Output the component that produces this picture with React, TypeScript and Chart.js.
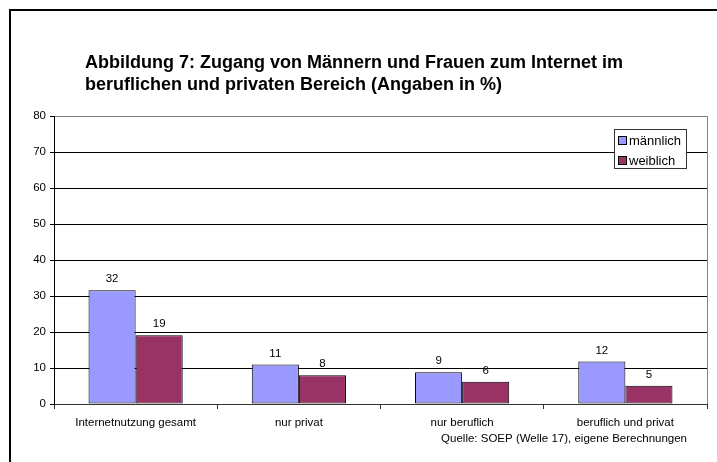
import React, { useEffect, useRef } from "react";
import { Chart, registerables } from "chart.js";

Chart.register(...registerables);

const categories = ["Internetnutzung gesamt", "nur privat", "nur beruflich", "beruflich und privat"];
const seriesNames = ["männlich", "weiblich"];
const maleValues = [31.6, 11.0, 8.8, 11.8];
const femaleValues = [19.1, 8.0, 6.2, 5.1];
const seriesColors = ["#9999FF", "#993366"];
const yMin = 0;
const yMax = 80;
const yStep = 10;
const titleLines = [
  "Abbildung 7: Zugang von Männern und Frauen zum Internet im",
  "beruflichen und privaten Bereich (Angaben in %)",
];
const sourceText = "Quelle: SOEP (Welle 17), eigene Berechnungen";

const FONT = "Arial, 'Liberation Sans', sans-serif";

const decorPlugin = {
  id: "decor",
  beforeDraw(chart: any) {
    const ctx = chart.ctx;
    ctx.save();
    ctx.fillStyle = "#ffffff";
    ctx.fillRect(0, 0, chart.width, chart.height);
    // outer frame
    ctx.strokeStyle = "#000";
    ctx.lineWidth = 2;
    ctx.beginPath();
    ctx.moveTo(10, chart.height + 20);
    ctx.lineTo(10, 10);
    ctx.lineTo(chart.width + 20, 10);
    ctx.stroke();
    // title
    ctx.fillStyle = "#000";
    ctx.font = `bold 18px ${FONT}`;
    ctx.textAlign = "left";
    ctx.textBaseline = "middle";
    titleLines.forEach((line, i) => ctx.fillText(line, 85, 63 + i * 22));
    ctx.restore();
  },
  afterDatasetsDraw(chart: any) {
    const ctx = chart.ctx;
    const area = chart.chartArea;
    ctx.save();
    // plot area right border
    ctx.strokeStyle = "#808080";
    ctx.lineWidth = 1;
    ctx.beginPath();
    ctx.moveTo(Math.round(area.right) + 0.5, area.top);
    ctx.lineTo(Math.round(area.right) + 0.5, area.bottom);
    ctx.stroke();
    // data labels
    ctx.fillStyle = "#000";
    ctx.font = `11.5px ${FONT}`;
    ctx.textAlign = "center";
    ctx.textBaseline = "middle";
    chart.data.datasets.forEach((ds: any, di: number) => {
      const meta = chart.getDatasetMeta(di);
      meta.data.forEach((bar: any, i: number) => {
        ctx.fillText(String(Math.round(ds.data[i])), bar.x, bar.y - 11);
      });
    });
    ctx.restore();
  },
  afterDraw(chart: any) {
    const ctx = chart.ctx;
    const area = chart.chartArea;
    ctx.save();
    // source text
    ctx.fillStyle = "#000";
    ctx.font = `11.5px ${FONT}`;
    ctx.textAlign = "right";
    ctx.textBaseline = "middle";
    ctx.fillText(sourceText, area.right - 20, 439);
    // legend
    ctx.font = `13px ${FONT}`;
    const textW = Math.max(...chart.data.datasets.map((d: any) => ctx.measureText(d.label).width));
    const boxW = Math.round(4 + 9 + 2 + textW + 5);
    const boxH = 39;
    const right = Math.round(area.right) - 21;
    const top = Math.round(area.top) + 13;
    const left = right - boxW;
    ctx.fillStyle = "#fff";
    ctx.fillRect(left, top, boxW, boxH);
    ctx.strokeStyle = "#333";
    ctx.lineWidth = 1;
    ctx.strokeRect(left + 0.5, top + 0.5, boxW, boxH);
    chart.data.datasets.forEach((ds: any, i: number) => {
      const cy = top + 11 + i * 20;
      ctx.fillStyle = ds.backgroundColor;
      ctx.fillRect(left + 4, cy - 4, 9, 9);
      ctx.strokeStyle = "#000";
      ctx.strokeRect(left + 4.5, cy - 3.5, 8, 8);
      ctx.fillStyle = "#000";
      ctx.textAlign = "left";
      ctx.textBaseline = "middle";
      ctx.fillText(ds.label, left + 15, cy + 1);
    });
    ctx.restore();
  },
};

export default function App() {
  const ref = useRef<HTMLCanvasElement | null>(null);

  useEffect(() => {
    if (!ref.current) return;
    const chart = new Chart(ref.current, {
      type: "bar",
      data: {
        labels: categories,
        datasets: [
          {
            label: seriesNames[0],
            data: maleValues,
            backgroundColor: seriesColors[0],
            borderColor: "#000",
            borderWidth: 1,
            borderSkipped: false,
          },
          {
            label: seriesNames[1],
            data: femaleValues,
            backgroundColor: seriesColors[1],
            borderColor: "#000",
            borderWidth: 1,
            borderSkipped: false,
          },
        ],
      },
      options: {
        responsive: false,
        animation: false,
        devicePixelRatio: 1,
        layout: { padding: { top: 116, right: 10, bottom: 0, left: 0 } },
        plugins: {
          legend: { display: false },
          title: { display: false },
          tooltip: { enabled: false },
        },
        datasets: {
          bar: { categoryPercentage: 0.577, barPercentage: 1 },
        },
        scales: {
          x: {
            offset: true,
            grid: {
              offset: true,
              drawOnChartArea: false,
              drawTicks: true,
              tickLength: 5,
              color: "#333",
            },
            border: { color: "#333", width: 1 },
            ticks: {
              color: "#000",
              font: { family: FONT, size: 11.5 },
              padding: 7,
              maxRotation: 0,
              autoSkip: false,
            },
            afterFit(scale: any) {
              scale.height = 58;
            },
          },
          y: {
            min: yMin,
            max: yMax,
            grid: {
              color: (c: any) => (c.tick && c.tick.value === yMax ? "#808080" : "#000"),
              tickColor: "#000",
              tickLength: 4,
            },
            border: { color: "#000", width: 1 },
            ticks: {
              stepSize: yStep,
              color: "#000",
              font: { family: FONT, size: 11.5 },
              padding: 4,
            },
            afterFit(scale: any) {
              scale.width = 54;
            },
          },
        },
      },
      plugins: [decorPlugin],
    });
    return () => chart.destroy();
  }, []);

  return (
    <div style={{ position: "fixed", left: 0, top: 0, width: 717, height: 462, background: "#fff" }}>
      <canvas ref={ref} width={717} height={462} style={{ display: "block" }} />
    </div>
  );
}
